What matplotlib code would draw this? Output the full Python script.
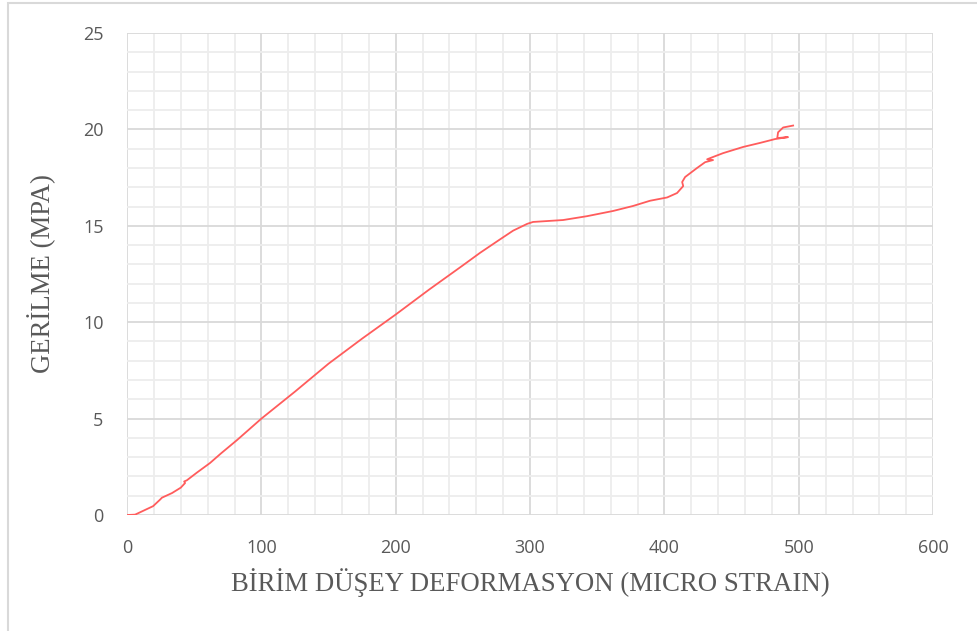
import numpy as np
import matplotlib
matplotlib.use("Agg")
import matplotlib.pyplot as plt
from matplotlib.patches import Rectangle
from matplotlib.ticker import MultipleLocator

# strain (micro strain) vs stress (MPa)
strain = [0, 6, 13, 19.4, 24.6, 26, 33.5, 40, 43.2, 42.5, 44.5, 52, 61.8, 70, 81.9,
          100, 125, 150, 175, 200, 225, 250, 262.8, 277.7, 287.4, 297.8, 302.2,
          324.6, 342.4, 361.8, 376.7, 389.3, 402, 409.4, 414, 413.2, 415.4,
          424.3, 430.3, 436.2, 431.8, 436.2, 443.7, 458.6, 471.2, 482.4, 492,
          484, 484.6, 488.4, 495.8]
stress = [0, 0.02, 0.25, 0.46, 0.8, 0.9, 1.14, 1.42, 1.66, 1.74, 1.8, 2.2, 2.7, 3.2, 3.89,
          5.0, 6.4, 7.85, 9.15, 10.4, 11.7, 12.95, 13.6, 14.3, 14.75, 15.1, 15.2,
          15.3, 15.5, 15.77, 16.03, 16.3, 16.47, 16.7, 17.06, 17.27, 17.53,
          18.0, 18.3, 18.41, 18.45, 18.57, 18.77, 19.09, 19.3, 19.5, 19.6,
          19.55, 19.85, 20.1, 20.2]

xticks = [0, 100, 200, 300, 400, 500, 600]
yticks = [0, 5, 10, 15, 20, 25]

fig = plt.figure(figsize=(9.78, 6.31), dpi=100)
ax = fig.add_axes([0.1299, 0.1838, 0.8242, 0.7639])

ax.plot(strain, stress, color="#ff5c5c", lw=1.3, zorder=3)

ax.set_xlim(0, 600)
ax.set_ylim(0, 25)
ax.set_xticks(xticks)
ax.set_yticks(yticks)
ax.xaxis.set_minor_locator(MultipleLocator(20))
ax.yaxis.set_minor_locator(MultipleLocator(1))
ax.grid(which="major", color="#d9d9d9", lw=1.3)
ax.grid(which="minor", color="#ededed", lw=1.3)
ax.set_axisbelow(True)
for s in ax.spines.values():
    s.set_visible(False)
ax.tick_params(which="both", length=0, labelsize=13, labelcolor="#595959")
ax.tick_params(axis="x", pad=17)
ax.tick_params(axis="y", pad=17)
for lab in ax.get_xticklabels() + ax.get_yticklabels():
    lab.set_fontfamily("Open Sans")

ax.set_xlabel("BİRİM DÜŞEY DEFORMASYON (MICRO STRAIN)", fontsize=19.3,
              family="Liberation Serif", color="#595959", labelpad=8)
ax.set_ylabel("GERİLME (MPA)", fontsize=19.3,
              family="Liberation Serif", color="#595959", labelpad=19)

# chart frame
fig.patches.append(Rectangle((8 / 978, -0.05), 1.2, 1 - 3 / 631 + 0.05,
                             transform=fig.transFigure, fill=False,
                             edgecolor="#d9d9d9", lw=1.5))

fig.savefig("out.png", dpi=100)
